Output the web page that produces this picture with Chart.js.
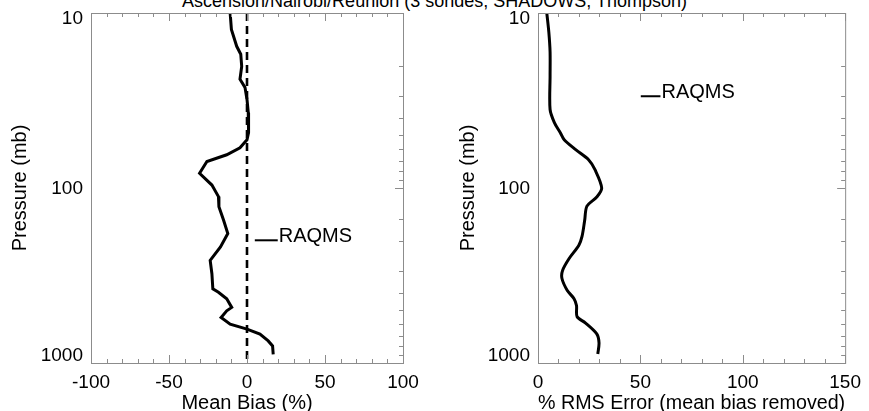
<!DOCTYPE html>
<html lang="en">
<head>
<meta charset="UTF-8">
<title>RAQMS vs ozonesondes</title>
<script src="https://cdn.jsdelivr.net/npm/chart.js"></script>
<style>
  body {
    margin: 0;
    width: 869px;
    height: 411px;
    overflow: hidden;
    position: relative;
    background: white;
    font-family: "Liberation Sans", Arial, sans-serif;
  }
  .title {
    position: absolute;
    left: 0;
    top: -8px;
    width: 869px;
    text-align: center;
    font-size: 18px;
    line-height: 18px;
    white-space: nowrap;
    color: black;
  }
  #left { position: absolute; left: 0; top: 0; }
  #right { position: absolute; left: 440px; top: 0; }
</style>
</head>
<body>
<div class="title">Ascension/Nairobi/Reunion (3 sondes, SHADOWS, Thompson)</div>
<canvas id="left" width="440" height="411"></canvas>
<canvas id="right" width="429" height="411"></canvas>
<script>
// mean bias profile (%), pressure in mb
const biasP = [10, 12.4, 15.5, 17.2, 20.2, 23.9, 26.6, 31.2, 37, 48.3, 53, 58.9, 64.6, 70.6, 82.4, 96.2,
  112, 128, 153, 182, 217, 259, 309, 377, 394, 430, 481, 503, 549, 600, 640, 684, 748, 799, 892];
const bias = [-10.8, -10, -6.6, -4, -3.4, -4.5, -1.3, 0, 0.8, 1, 0, -4.5, -13, -25.7, -30.4, -22.5,
  -18.3, -18, -15, -12.3, -17, -23.6, -22.5, -21.9, -18.3, -13, -9.8, -13, -16.6, -10.8, 0, 8.3, 13.6, 16.4, 16.8];

// rms error profile (%)
const rmsP = [10, 12.9, 16.7, 23, 35.6, 42.3, 48.3, 53, 60.4, 69, 78.9, 100, 112.5, 127, 153, 189,
  213, 253, 296, 329, 385, 429, 470, 544, 589, 681, 767, 888];
const rms = [4.3, 5.3, 5.9, 5.9, 5.9, 8, 10.9, 12.8, 18.4, 24.7, 27.9, 31.1, 28.7, 23.9, 22.8, 21.5,
  19.9, 15.2, 12, 11.7, 14.3, 17.6, 18.8, 19.1, 23.1, 28.7, 29.8, 29.2];

// zero line + key lines
const zeroX = [0, 0];
const zeroP = [10, 1000];
const biasKeyX = [5, 19.7];
const biasKeyP = [199, 199];
const rmsKeyX = [50.2, 59.8];
const rmsKeyP = [29.9, 29.9];
const keyName = 'RAQMS';

const pLabels = [10, 100, 1000];
const pTitle = 'Pressure (mb)';

Chart.defaults.font.family = '"Liberation Sans", Arial, sans-serif';
Chart.defaults.color = '#000';

function pts(xs, ps) {
  return xs.map((v, i) => ({ x: v, y: ps[i] }));
}

// box, inward ticks, pressure labels and key text
const boxPlugin = {
  id: 'box',
  afterDraw(chart, args, opts) {
    const { ctx, chartArea: a, scales: { x, y } } = chart;
    ctx.save();
    ctx.strokeStyle = '#8c8c8c';
    ctx.lineWidth = 1;
    ctx.strokeRect(a.left + 0.5, a.top + 0.5, a.right - a.left, a.bottom - a.top);
    ctx.beginPath();
    x.ticks.forEach(t => {
      const px = Math.round(x.getPixelForValue(t.value)) + 0.5;
      const len = t.value % 50 === 0 ? 8 : 4;
      ctx.moveTo(px, a.bottom); ctx.lineTo(px, a.bottom - len);
      ctx.moveTo(px, a.top); ctx.lineTo(px, a.top + len);
    });
    y.ticks.forEach(t => {
      const py = Math.round(y.getPixelForValue(t.value)) + 0.5;
      const len = pLabels.includes(t.value) ? 8 : 4;
      ctx.moveTo(a.right, py); ctx.lineTo(a.right - len, py);
    });
    ctx.stroke();

    ctx.fillStyle = '#000';
    ctx.font = '19px "Liberation Sans", Arial, sans-serif';
    ctx.textAlign = 'right';
    ctx.textBaseline = 'middle';
    pLabels.forEach(p => {
      let py = y.getPixelForValue(p);
      py = Math.min(Math.max(py + 1, a.top + 6), a.bottom - 7);
      ctx.fillText(String(p), a.left - 8, py);
    });

    ctx.font = '20px "Liberation Sans", Arial, sans-serif';
    ctx.textAlign = 'left';
    ctx.textBaseline = 'alphabetic';
    ctx.fillText(opts.text, x.getPixelForValue(opts.kx) + 1, y.getPixelForValue(opts.kp) + 1.5);
    ctx.restore();
  }
};

function makeChart(id, cfg) {
  return new Chart(document.getElementById(id), {
    type: 'scatter',
    data: { datasets: cfg.datasets },
    options: {
      responsive: false,
      animation: false,
      layout: { padding: { left: 0, right: cfg.padRight, top: 13, bottom: 0 } },
      plugins: {
        legend: { display: false },
        tooltip: { enabled: false },
        box: { text: keyName, kx: cfg.keyX, kp: cfg.keyP }
      },
      scales: {
        x: {
          type: 'linear',
          min: cfg.xMin,
          max: cfg.xMax,
          grid: { display: false, drawTicks: false },
          border: { display: false },
          ticks: {
            stepSize: 10,
            autoSkip: false,
            maxRotation: 0,
            padding: 8,
            font: { size: 19 },
            callback: v => (v % 50 === 0 ? String(v) : '')
          },
          title: { display: true, text: cfg.xTitle, font: { size: 20, lineHeight: 0.8 }, padding: 0 },
          afterFit: s => { s.height = 48; }
        },
        y: {
          type: 'logarithmic',
          min: 10,
          max: 1000,
          reverse: true,
          grid: { display: false, drawTicks: false },
          border: { display: false },
          ticks: { display: false },
          title: { display: true, text: pTitle, font: { size: 20 }, padding: { top: cfg.titlePad, bottom: 0 } },
          afterFit: s => { s.width = cfg.yWidth; }
        }
      }
    },
    plugins: [boxPlugin]
  });
}

const line = { showLine: true, pointRadius: 0, borderColor: '#000', backgroundColor: '#000', fill: false };

makeChart('left', {
  xMin: -100, xMax: 100, xTitle: 'Mean Bias (%)',
  padRight: 37, yWidth: 91, titlePad: 8,
  keyX: biasKeyX[1], keyP: biasKeyP[1],
  datasets: [
    { ...line, data: pts(bias, biasP), borderWidth: 3 },
    { ...line, data: pts(zeroX, zeroP), borderWidth: 2.6, borderDash: [8, 5] },
    { ...line, data: pts(biasKeyX, biasKeyP), borderWidth: 2 }
  ]
});

makeChart('right', {
  xMin: 0, xMax: 150, xTitle: '% RMS Error (mean bias removed)',
  padRight: 17, yWidth: 98, titlePad: 16,
  keyX: rmsKeyX[1], keyP: rmsKeyP[1],
  datasets: [
    { ...line, data: pts(rms, rmsP), borderWidth: 3, tension: 0.3 },
    { ...line, data: pts(rmsKeyX, rmsKeyP), borderWidth: 2 }
  ]
});
</script>
</body>
</html>
